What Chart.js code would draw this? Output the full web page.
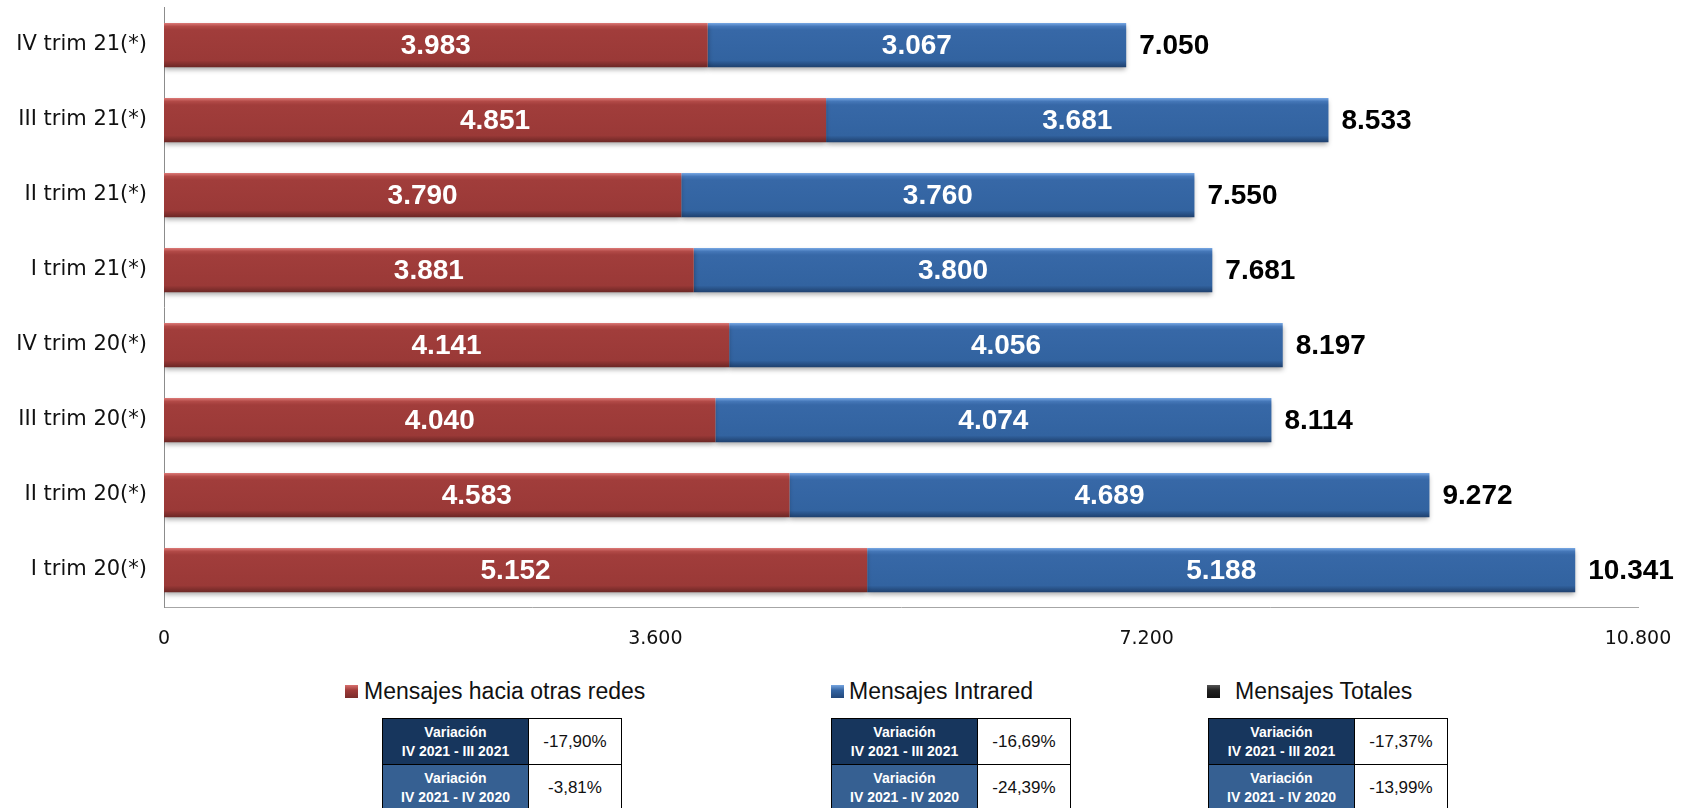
<!DOCTYPE html>
<html>
<head>
<meta charset="utf-8">
<script src="https://cdn.jsdelivr.net/npm/chart.js@4"></script>
<style>
  body { margin: 0; background: #fff; width: 1685px; height: 808px; overflow: hidden; position: relative; font-family: "Liberation Sans", Arial, sans-serif; }
  .chart-box { position: absolute; left: 0; top: 0; width: 1685px; height: 660px; }
  .legend-item { position: absolute; top: 676px; height: 30px; display: flex; align-items: center; font-size: 23px; color: #111; }
  .legend-item .box { width: 13px; height: 13px; display: inline-block; }
  table.var { position: absolute; top: 718px; border-collapse: collapse; }
  table.var td { height: 45px; padding: 0; text-align: center; border: 1px solid #000; }
  table.var td.head { width: 145px; color: #fff; font-weight: bold; font-size: 14px; line-height: 19px; border-color: #000; }
  table.var tr.r1 td.head { background: #17365d; }
  table.var tr.r2 td.head { background: #366092; }
  table.var td.val { width: 92px; font-size: 17px; background: #fff; color: #111; }
</style>
</head>
<body>
<div class="chart-box"><canvas id="chart" width="1685" height="660"></canvas></div>

<div class="legend-item" style="left:345px"><span class="box" style="background:linear-gradient(#d8706e,#9f3b39 40%,#7a2c2a)"></span><span style="margin-left:6px">Mensajes hacia otras redes</span></div>
<div class="legend-item" style="left:831px"><span class="box" style="background:linear-gradient(#76a5e0,#3566a4 40%,#22477a)"></span><span style="margin-left:5px">Mensajes Intrared</span></div>
<div class="legend-item" style="left:1207px"><span class="box" style="background:linear-gradient(#555,#222 40%,#111)"></span><span style="margin-left:15px">Mensajes Totales</span></div>

<div id="tables"></div>

<script>
const categories = ['I trim 20(*)', 'II trim 20(*)', 'III trim 20(*)', 'IV trim 20(*)',
                    'I trim 21(*)', 'II trim 21(*)', 'III trim 21(*)', 'IV trim 21(*)']
const otrasRedes = [5152, 4583, 4040, 4141, 3881, 3790, 4851, 3983]
const intrared = [5188, 4689, 4074, 4056, 3800, 3760, 3681, 3067]
const totales = [10341, 9272, 8114, 8197, 7681, 7550, 8533, 7050]
const xTicks = [0, 3600, 7200, 10800]

const seriesNames = ['Mensajes hacia otras redes', 'Mensajes Intrared', 'Mensajes Totales']
const varLabels = ['IV 2021 - III 2021', 'IV 2021 - IV 2020']
const varOtras = ['-17,90%', '-3,81%']
const varIntra = ['-16,69%', '-24,39%']
const varTotal = ['-17,37%', '-13,99%']

function fmt(n) {
    return String(n).replace(/\B(?=(\d{3})+(?!\d))/g, '.')
}

// tables under the legend
const tableLefts = [382, 831, 1208]
const tableVals = [varOtras, varIntra, varTotal]
const tablesEl = document.getElementById('tables')
for (let t = 0; t < 3; t++) {
    const table = document.createElement('table')
    table.className = 'var'
    table.style.left = tableLefts[t] + 'px'
    for (let r = 0; r < 2; r++) {
        const tr = document.createElement('tr')
        tr.className = 'r' + (r + 1)
        const head = document.createElement('td')
        head.className = 'head'
        head.innerHTML = 'Variación<br>' + varLabels[r]
        const val = document.createElement('td')
        val.className = 'val'
        val.textContent = tableVals[t][r]
        tr.appendChild(head)
        tr.appendChild(val)
        table.appendChild(tr)
    }
    tablesEl.appendChild(table)
}

const barPct = 0.59

function barGradient(stops, flat) {
    return function(context) {
        const chart = context.chart
        const y = chart.scales.y
        if (!chart.chartArea || !y || context.dataIndex === undefined) return flat
        const yc = y.getPixelForValue(context.dataIndex)
        const half = (chart.chartArea.height / categories.length) * barPct / 2
        const g = chart.ctx.createLinearGradient(0, yc - half, 0, yc + half)
        for (const s of stops) g.addColorStop(s[0], s[1])
        return g
    }
}

const redStops = [[0, '#de7b79'], [0.08, '#b24a47'], [0.16, '#a13d3b'], [0.85, '#9a3937'], [1, '#6c2725']]
const blueStops = [[0, '#7aaae6'], [0.08, '#4577b8'], [0.16, '#3768a7'], [0.85, '#3263a0'], [1, '#1f416f']]

const barLabels = {
    id: 'barLabels',
    beforeDatasetsDraw(chart) {
        const ctx = chart.ctx
        ctx.save()
        ctx.shadowColor = 'rgba(0,0,0,0.35)'
        ctx.shadowBlur = 5
        ctx.shadowOffsetY = 3
    },
    afterDatasetsDraw(chart) {
        const ctx = chart.ctx
        ctx.restore()
        ctx.save()
        ctx.font = 'bold 28px "Liberation Sans", Arial, sans-serif'
        ctx.textBaseline = 'middle'
        for (let d = 0; d < 2; d++) {
            const meta = chart.getDatasetMeta(d)
            const values = chart.data.datasets[d].data
            meta.data.forEach((bar, i) => {
                ctx.fillStyle = '#ffffff'
                ctx.textAlign = 'center'
                ctx.fillText(fmt(values[i]), (bar.x + bar.base) / 2, bar.y + 1)
            })
        }
        const last = chart.getDatasetMeta(1)
        last.data.forEach((bar, i) => {
            ctx.fillStyle = '#000000'
            ctx.textAlign = 'left'
            ctx.fillText(fmt(totales[i]), bar.x + 13, bar.y + 1)
        })
        ctx.restore()
    }
}

const chartEl = document.getElementById('chart')
new Chart(chartEl, {
    type: 'bar',
    data: {
        labels: categories,
        datasets: [{
            label: seriesNames[0],
            data: otrasRedes,
            backgroundColor: barGradient(redStops, '#9f3b39'),
            borderWidth: 0
        }, {
            label: seriesNames[1],
            data: intrared,
            backgroundColor: barGradient(blueStops, '#3566a4'),
            borderWidth: 0
        }]
    },
    options: {
        indexAxis: 'y',
        responsive: false,
        animation: false,
        devicePixelRatio: 1,
        categoryPercentage: 1,
        barPercentage: barPct,
        layout: { padding: { top: 7.5, right: 47, left: 0, bottom: 0 } },
        plugins: {
            legend: { display: false },
            tooltip: { enabled: false }
        },
        scales: {
            x: {
                stacked: true,
                min: 0,
                max: 10800,
                afterBuildTicks: function(scale) {
                    scale.ticks = xTicks.map(v => ({ value: v }))
                },
                grid: { display: false, drawTicks: false },
                border: { display: true, color: '#a6a6a6', width: 1 },
                ticks: {
                    padding: 20,
                    color: '#111',
                    font: { family: '"DejaVu Sans", sans-serif', size: 19 },
                    maxRotation: 0,
                    callback: v => fmt(v)
                },
                afterFit: function(scale) {
                    scale.height = 52.5
                    scale.paddingLeft = 0
                    scale.paddingRight = 0
                }
            },
            y: {
                stacked: true,
                reverse: true,
                grid: { display: false, drawTicks: false },
                border: { display: true, color: '#8c8c8c', width: 1 },
                ticks: {
                    padding: 17,
                    color: '#111',
                    font: { family: '"DejaVu Sans", sans-serif', size: 21 }
                },
                afterFit: function(scale) {
                    scale.width = 164
                    scale.paddingTop = 0
                    scale.paddingBottom = 0
                }
            }
        }
    },
    plugins: [barLabels]
})
</script>
</body>
</html>
